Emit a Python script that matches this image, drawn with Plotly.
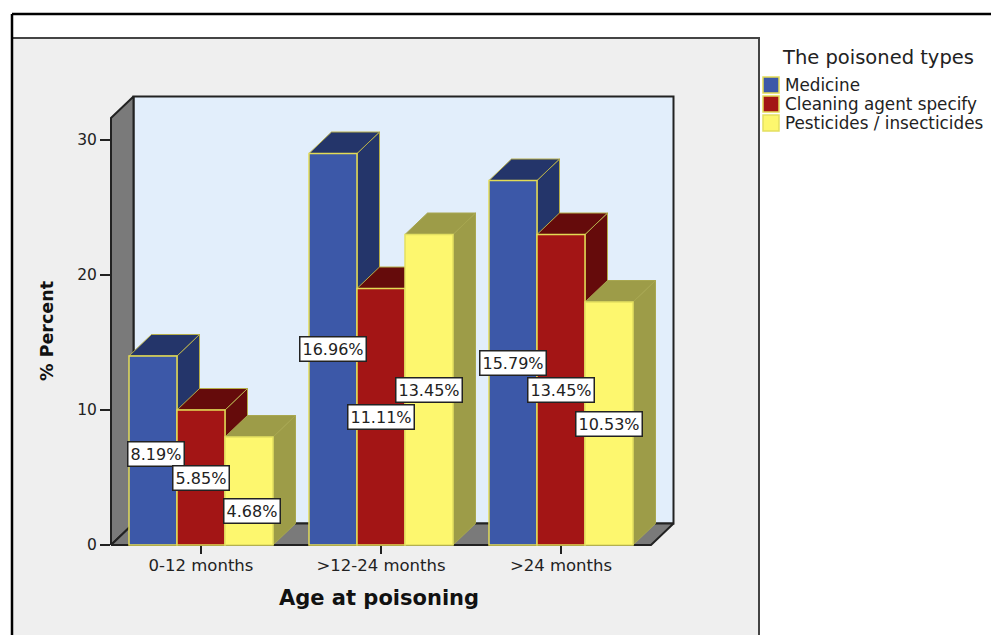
import plotly.graph_objects as go

# ---- data ----
categories = ["0-12 months", ">12-24 months", ">24 months"]
series_names = ["Medicine", "Cleaning agent specify", "Pesticides / insecticides"]
medicine = [14, 29, 27]
cleaning = [10, 19, 23]
pesticides = [8, 23, 18]
medicine_labels = ["8.19%", "16.96%", "15.79%"]
cleaning_labels = ["5.85%", "11.11%", "13.45%"]
pesticides_labels = ["4.68%", "13.45%", "10.53%"]
y_ticks = [0, 10, 20, 30]

# ---- style ----
W, H = 991, 635
FONT = "DejaVu Sans"
front = ["#3c58a8", "#a31515", "#fdf76e"]
shade = ["#24356a", "#650b0b", "#9d9c48"]
edge = ["#e3db55", "#e3db55", "#e3e060"]
edge_dark = ["#b5ad4a", "#b5ad4a", "#a8a750"]
PX_PER_GROUP = 180.0
PX_PER_UNIT = 13.5
X0_PX, Y0_PX = 201.0, 545.0     # pixel of first group centre and of the value 0
BAR_W = 48 / PX_PER_GROUP
DX, DY = 22.5 / PX_PER_GROUP, 21.5 / PX_PER_UNIT
Y_MAX = 427 / PX_PER_UNIT
X_MIN, X_MAX = -0.5, 2.5
series = [medicine, cleaning, pesticides]
labels = [medicine_labels, cleaning_labels, pesticides_labels]

fig = go.Figure()


def poly(xs, ys, fill, line="#000000", width=1.0):
    fig.add_trace(go.Scatter(
        x=xs + xs[:1], y=ys + ys[:1], mode="lines", fill="toself", fillcolor=fill,
        line=dict(color=line, width=width), showlegend=False, hoverinfo="skip",
        xaxis="x", yaxis="y"))


# chart box: back wall, side wall, floor
poly([X_MIN + DX, X_MAX + DX, X_MAX + DX, X_MIN + DX],
     [DY, DY, Y_MAX + DY, Y_MAX + DY], "#e2eefb", "#222222", 2)
poly([X_MIN, X_MIN + DX, X_MIN + DX, X_MIN],
     [0, DY, Y_MAX + DY, Y_MAX], "#7a7a7a", "#222222", 2)
poly([X_MIN, X_MAX, X_MAX + DX, X_MIN + DX],
     [0, 0, DY, DY], "#7a7a7a", "#222222", 2)

# depth faces, painted left to right
for g in range(len(categories)):
    for s, vals in enumerate(series):
        v = vals[g]
        x0 = g + (s - 1.5) * BAR_W
        x1 = x0 + BAR_W
        poly([x1, x1, x1 + DX, x1 + DX], [0, v, v + DY, DY], shade[s], edge_dark[s], 1)
        poly([x0, x1, x1 + DX, x0 + DX], [v, v, v + DY, v + DY], shade[s], edge_dark[s], 1)

# front faces on an overlaid copy of the axes
for s, vals in enumerate(series):
    fig.add_trace(go.Bar(
        x=[g + (s - 1) * BAR_W for g in range(len(categories))], y=vals,
        name=series_names[s], width=BAR_W,
        marker=dict(color=front[s], line=dict(color=edge[s], width=1.5)),
        xaxis="x2", yaxis="y2", showlegend=False, hoverinfo="skip"))

# value labels
for s, vals in enumerate(series):
    for g, v in enumerate(vals):
        shift = -20 if (s, g) == (2, 0) else (-3 if (s, g) == (0, 0) else 0)
        fig.add_annotation(
            x=g + (s - 1) * BAR_W, y=v / 2, xref="x2", yref="y2", text=labels[s][g],
            showarrow=False, yshift=shift, xshift=3 if g == 0 and s != 1 else 0,
            bgcolor="#ffffff", bordercolor="#222222", borderwidth=1.5, borderpad=2,
            font=dict(family=FONT, size=16, color="#222222"))


def paper_text(px, py, text, size, xanchor="left", angle=0, color="#222222"):
    fig.add_annotation(x=px / W, y=1 - py / H, xref="paper", yref="paper", text=text,
                       showarrow=False, xanchor=xanchor, yanchor="middle", textangle=angle,
                       font=dict(family=FONT, size=size, color=color))


# legend heading and axis titles
paper_text(878, 58, "The poisoned types", 19.5, "center")
paper_text(379, 598, "<b>Age at poisoning</b>", 21, "center", color="#111111")
paper_text(47, 331, "<b>% Percent</b>", 17.5, "center", angle=-90, color="#111111")

panel = dict(xref="paper", yref="paper", layer="below")
shapes = [
    dict(type="rect", x0=12 / W, x1=759 / W, y0=-0.02, y1=1 - 38 / H,
         fillcolor="#efefef", line=dict(color="#444444", width=2), **panel),
    dict(type="line", x0=12 / W, x1=1, y0=1 - 14 / H, y1=1 - 14 / H,
         line=dict(color="#000000", width=2.5), **panel),
    dict(type="line", x0=12 / W, x1=12 / W, y0=0, y1=1 - 14 / H,
         line=dict(color="#000000", width=2.5), **panel),
]

# legend rows
for s, name in enumerate(series_names):
    row_y = 85 + 19 * s
    shapes.append(dict(type="rect", x0=763 / W, x1=779 / W, y0=1 - (row_y + 8) / H,
                       y1=1 - (row_y - 8) / H, fillcolor=front[s],
                       line=dict(color=edge[s], width=1.5), **panel))
    paper_text(783, row_y, name, 16.8)

# both axis copies span the figure so the depth of the box is not clipped
x_range = [(0 - X0_PX) / PX_PER_GROUP, (W - X0_PX) / PX_PER_GROUP]
y_range = [(Y0_PX - H) / PX_PER_UNIT, Y0_PX / PX_PER_UNIT]
x_common = dict(domain=[0, 1], range=x_range, tickmode="array", automargin=False,
                tickvals=list(range(len(categories))), showgrid=False, zeroline=False,
                showline=False)
y_common = dict(domain=[0, 1], range=y_range, tickmode="array", automargin=False,
                tickvals=y_ticks, showgrid=False, zeroline=False, showline=False)

fig.update_layout(
    width=W, height=H, margin=dict(l=0, r=0, t=0, b=0), autosize=False,
    paper_bgcolor="#ffffff", plot_bgcolor="rgba(0,0,0,0)",
    barmode="overlay", shapes=shapes, showlegend=False,
    font=dict(family=FONT, color="#222222"),
    xaxis=dict(**x_common, ticktext=categories, ticks="outside", ticklen=8, tickwidth=1.5,
               tickcolor="#222222", anchor="free", position=1 - Y0_PX / H,
               ticklabelstandoff=-3,
               tickfont=dict(family=FONT, size=16.5, color="#222222")),
    yaxis=dict(**y_common, ticks="outside", ticklen=10, tickwidth=1.5, tickcolor="#222222",
               anchor="free", position=110 / W,
               tickfont=dict(family=FONT, size=15.5, color="#222222")),
    xaxis2=dict(**x_common, overlaying="x", anchor="y2", showticklabels=False, ticks=""),
    yaxis2=dict(**y_common, overlaying="y", anchor="x2", showticklabels=False, ticks=""),
)

fig.write_html("out.html", post_script="document.body.style.margin='0';",
               config={"displayModeBar": False})
